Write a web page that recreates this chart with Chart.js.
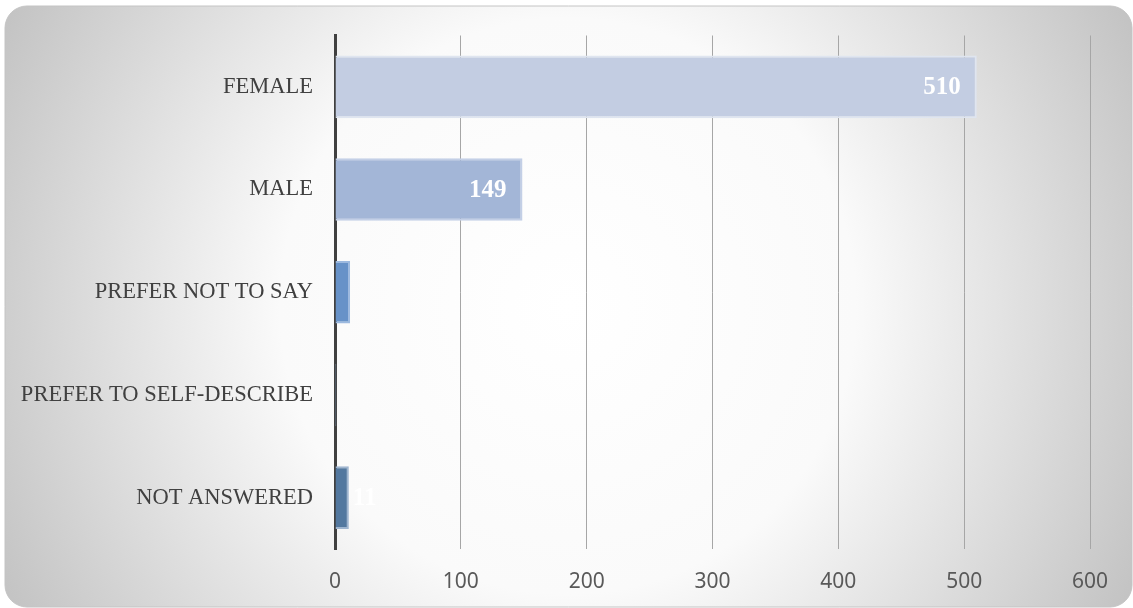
<!DOCTYPE html>
<html>
<head>
<meta charset="utf-8">
<script src="https://cdn.jsdelivr.net/npm/chart.js@4.4.1/dist/chart.umd.min.js"></script>
<style>
    html, body { margin: 0; padding: 0; background: #fff; }
    #wrap { width: 1133px; height: 608px; position: relative; }
</style>
</head>
<body>
<div id="wrap"><canvas id="genderChart"></canvas></div>
<script>
const categories = ['FEMALE', 'MALE', 'PREFER NOT TO SAY', 'PREFER TO SELF-DESCRIBE', 'NOT ANSWERED'];
const counts = [510, 149, 12, 1, 11];
const showLabel = [true, true, false, false, true];
const barColors = ['#c3cde2', '#a3b6d7', '#6792c8', '#7ea1cf', '#53789f'];
const barBorders = ['#dfe5f0', '#c3cfe6', '#9cb9df', '#a9c2e3', '#9fb5cf'];
const xTicks = [0, 100, 200, 300, 400, 500, 600];

// fondo redondeado con degradado radial
const bgPlugin = {
    id: 'bg',
    beforeDraw(c) {
        const ctx = c.ctx;
        const x = 5, y = 6, w = 1127, h = 601, r = 22;
        ctx.save();
        ctx.fillStyle = '#fff';
        ctx.fillRect(0, 0, c.width, c.height);
        const g = ctx.createRadialGradient(568, 306, 0, 568, 306, 640);
        g.addColorStop(0, '#ffffff');
        g.addColorStop(0.45, '#fafafa');
        g.addColorStop(1, '#c2c2c2');
        ctx.beginPath();
        ctx.roundRect(x, y, w, h, r);
        ctx.fillStyle = g;
        ctx.fill();
        ctx.strokeStyle = '#c4c4c4';
        ctx.lineWidth = 1;
        ctx.stroke();
        ctx.restore();
    }
};

// etiquetas de valor
const labelPlugin = {
    id: 'vals',
    afterDatasetsDraw(c) {
        const ctx = c.ctx;
        const meta = c.getDatasetMeta(0);
        ctx.save();
        ctx.font = 'bold 25px "Liberation Serif"';
        ctx.fillStyle = '#ffffff';
        ctx.textBaseline = 'middle';
        meta.data.forEach((bar, i) => {
            if (!showLabel[i]) return;
            const v = counts[i];
            if (bar.x - bar.base > 80) {
                ctx.textAlign = 'right';
                ctx.fillText(v, bar.x - 16, bar.y + 1);
            } else {
                ctx.textAlign = 'left';
                ctx.fillText(v, bar.x + 4, bar.y + 1);
            }
        });
        ctx.restore();
    }
};

new Chart(document.getElementById('genderChart'), {
    type: 'bar',
    data: {
        labels: categories,
        datasets: [{
            data: counts,
            backgroundColor: barColors,
            borderColor: barBorders,
            borderWidth: 2,
            borderSkipped: 'start',
            barPercentage: 0.61,
            categoryPercentage: 1
        }]
    },
    options: {
        indexAxis: 'y',
        responsive: true,
        maintainAspectRatio: false,
        animation: false,
        layout: { padding: { left: 0, right: 43, top: 35, bottom: 0 } },
        plugins: { legend: { display: false }, tooltip: { enabled: false } },
        scales: {
            x: {
                min: 0, max: 600,
                afterBuildTicks: s => { s.ticks = xTicks.map(v => ({ value: v })); },
                afterFit: s => { s.height = 59; },
                grid: { color: '#a6a6a6', lineWidth: 1, drawTicks: false },
                border: { display: false },
                ticks: { padding: 20, color: '#595959', font: { family: 'Noto Sans', size: 21 } }
            },
            y: {
                afterFit: s => { s.width = 335; },
                grid: { display: false, drawTicks: false },
                border: { display: true, color: '#404040', width: 3 },
                ticks: { padding: 22, color: '#404040', font: { family: 'Liberation Serif', size: 22.5 } }
            }
        }
    },
    plugins: [bgPlugin, labelPlugin]
});
</script>
</body>
</html>
